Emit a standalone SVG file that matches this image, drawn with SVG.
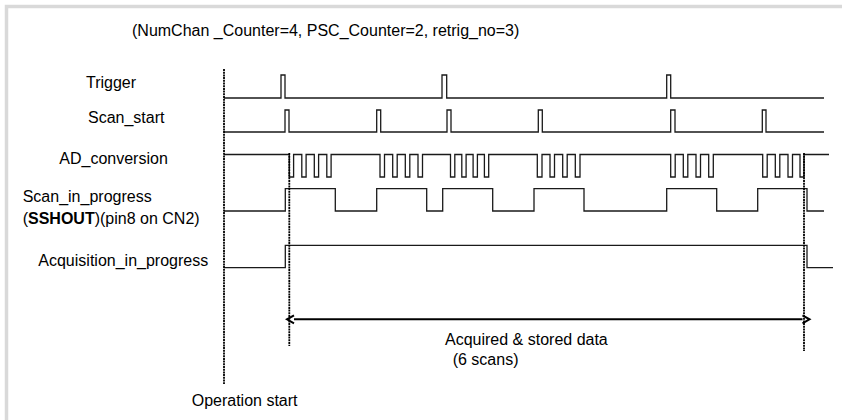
<svg xmlns="http://www.w3.org/2000/svg" width="842" height="420" viewBox="0 0 842 420">
<defs>
<style>
text{font-family:"Liberation Sans",Arial,sans-serif;font-size:16px;fill:#000}
.sig{fill:none;stroke:#1a1a1a;stroke-width:1.3;stroke-linejoin:miter}
.mark{fill:none;stroke:#000;stroke-width:1.8;stroke-dasharray:2 0.7}
.arr{fill:none;stroke:#000;stroke-width:2}
</style>
<marker id="ah" viewBox="-1 -6 10 12" markerWidth="10" markerHeight="12" refX="0" refY="0" orient="auto-start-reverse" markerUnits="userSpaceOnUse">
<path d="M-7,-4 L0,0 L-7,4" fill="none" stroke="#000" stroke-width="2" transform="translate(7,0)"/>
</marker>
</defs>
<rect x="0" y="0" width="842" height="420" fill="#fff"/>
<rect x="6.5" y="6.5" width="900" height="500" fill="none" stroke="#d9d9d9" stroke-width="3.5"/>
<text id="title" x="132" y="36">(NumChan _Counter=4, PSC_Counter=2, retrig_no=3)</text>

<g id="trigger">
<text x="86" y="88">Trigger</text>
<path class="sig" d="M224 98 H281 V75 H285 V98 H442 V75 H446.7 V98 H666.7 V75 H670.7 V98 H824"/>
</g>
<g id="scan_start">
<text x="88" y="123.3">Scan_start</text>
<path class="sig" d="M224 132 H285 V110 H289 V132 H376.7 V110 H380.7 V132 H447 V110 H451 V132 H538.3 V110 H542.3 V132 H670.7 V110 H675 V132 H762.3 V110 H766 V132 H824"/>
</g>
<g id="ad_conversion">
<text x="59.3" y="164">AD_conversion</text>
<path class="sig" d="M224 154.5 H289.3 V177 H293.6 V154.5 H301.8 V177 H306.1 V154.5 H314.3 V177 H318.6 V154.5 H326.8 V177 H331.1 V154.5
H380 V177 H384.5 V154.5 H392.7 V177 H397.2 V154.5 H405.3 V177 H409.8 V154.5 H418 V177 H422.5 V154.5
H450.5 V177 H454.8 V154.5 H461.8 V177 H466.1 V154.5 H473.1 V177 H477.4 V154.5 H484.4 V177 H488.7 V154.5
H537.3 V177 H542 V154.5 H550 V177 H554.5 V154.5 H562.7 V177 H567.2 V154.5 H575.3 V177 H580 V154.5
H670.7 V177 H675.2 V154.5 H683.3 V177 H687.8 V154.5 H696 V177 H700.5 V154.5 H708.7 V177 H713.3 V154.5
H762.7 V177 H767.2 V154.5 H775.3 V177 H779.8 V154.5 H788 V177 H792.5 V154.5 H800 V177 H804 V154.5 H829"/>
</g>
<g id="scan_in_progress">
<text x="22.7" y="202"><tspan>Scan_in_progress</tspan><tspan x="22.7" y="224">(<tspan font-weight="bold">SSHOUT</tspan>)(pin8 on CN2)</tspan></text>
<path class="sig" d="M224 211 H285.3 V188.7 H335.3 V211 H376.7 V188.7 H426.7 V211 H442.7 V188.7 H492.7 V211 H534 V188.7 H584 V211 H666.7 V188.7 H716.7 V211 H757.7 V188.7 H807 V211 H824"/>
</g>
<g id="acquisition_in_progress">
<text x="38.3" y="265.7">Acquisition_in_progress</text>
<path class="sig" d="M224 267.7 H285.3 V245.3 H807 V267.7 H833"/>
</g>
<g id="markers">
<line class="mark" x1="224" y1="69" x2="224" y2="384"/>
<line class="mark" x1="289.3" y1="153" x2="289.3" y2="346"/>
<line class="mark" x1="804" y1="153" x2="804" y2="351"/>
<text x="191.7" y="406">Operation start</text>
</g>
<g id="connectors">
<line class="arr" x1="294" y1="319.3" x2="802.5" y2="319.3" marker-start="url(#ah)" marker-end="url(#ah)"/>
<text x="445" y="345">Acquired &amp; stored data</text>
<text x="452.7" y="364.5">(6 scans)</text>
</g>
</svg>
